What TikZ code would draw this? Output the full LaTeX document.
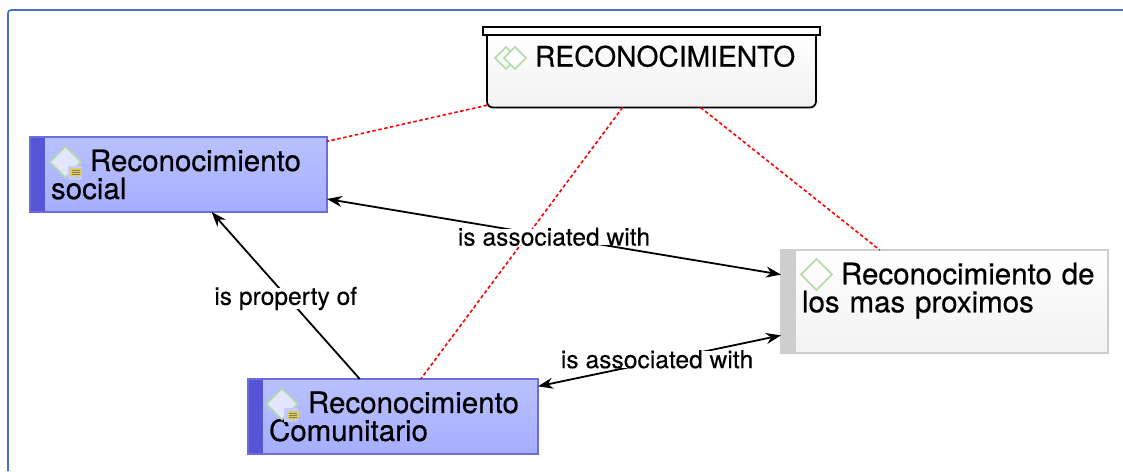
\documentclass[tikz,border=0pt]{standalone}
\usepackage{fontspec}
\setmainfont[FakeBold=0.5]{TeX Gyre Heros}
\newfontfamily\labfont[FakeBold=0.15]{TeX Gyre Heros}
\usetikzlibrary{arrows.meta,shapes.geometric}
\definecolor{bandblue}{HTML}{5555D5}
\definecolor{boxtop}{HTML}{BAC1FF}
\definecolor{boxbot}{HTML}{A5AEFF}
\definecolor{greyline}{HTML}{CECECE}
\definecolor{greybot}{HTML}{F2F2F2}
\definecolor{gemgreen}{HTML}{B2DBA5}
\definecolor{framec}{HTML}{4472C4}
\definecolor{notey}{HTML}{DCCB6C}
\definecolor{notel}{HTML}{8A7F45}
\tikzset{
  x=1pt,y=-1pt,
  concept/.style={rectangle,outer sep=0pt,inner xsep=0pt,inner ysep=0pt,align=left,
    font=\fontsize{29.5}{28}\selectfont},
  blue box/.style={concept,draw=bandblue!85!white,line width=1.5pt,top color=boxtop,bottom color=boxbot,
    path picture={\fill[bandblue] (path picture bounding box.north west) rectangle ([xshift=15pt]path picture bounding box.south west);}},
  grey box/.style={concept,draw=greyline,line width=1.5pt,top color=white,bottom color=greybot,
    path picture={\fill[greyline] (path picture bounding box.north west) rectangle ([xshift=15pt]path picture bounding box.south west);}},
  root box/.style={concept,draw=black,line width=1.7pt,rounded corners=6pt,top color=white,bottom color=greybot},
  lid/.style={rectangle,draw=black,line width=1.7pt,fill=white,outer sep=0pt,inner sep=0pt,minimum width=337pt,minimum height=8pt},
  gem/.style={diamond,aspect=1,draw=gemgreen,line width=1.7pt,inner sep=0pt,minimum width=31pt,minimum height=31pt,outer sep=0pt},
  gem small/.style={gem,minimum width=22pt,minimum height=22pt,line width=1.5pt},
  tie/.style={red,line width=1.6pt,dash pattern=on 3.5pt off 2.5pt},
  link/.style={black,line width=1.8pt},
  tip/.style={{Stealth[length=15pt,width=11pt]}-{Stealth[length=15pt,width=11pt]}},
  endtip/.style={-{Stealth[length=15pt,width=11pt]}},
  lab/.style={fill=white,inner xsep=0pt,inner ysep=-1pt,font=\labfont\fontsize{24.6}{26}\selectfont},
  notemark/.pic={
    \fill[notey] (-6,-4.5) -- (6,-4.5) -- (6,3.5) -- (2,3.5) -- (0,6) -- (-1,3.5) -- (-6,3.5) -- cycle;
    \draw[notel,line width=.7pt] (-4,-2.5) -- (4,-2.5) (-4,-.5) -- (4,-.5) (-4,1.5) -- (4,1.5);
  },
}
\begin{document}
\begin{tikzpicture}
\useasboundingbox (0,0) rectangle (1123,471);
\fill[white] (0,0) rectangle (1123,471);
\draw[framec,line width=1.7pt,rounded corners=3pt] (8,471) -- (8,10) -- (1123,10);
% concepts
\node[root box,minimum width=329pt,minimum height=78pt,text width=313pt] (reco) at (651.5,68.5)
  {\mbox{\hspace*{40pt}\fontsize{28.2}{28}\selectfont RECONOCIMIENTO}\\[-3pt]~};
\node[lid] (recolid) at (651.5,31) {};
\node[blue box,minimum width=297pt,minimum height=75pt,text width=255pt] (social) at (178.5,174.5)
  {\mbox{\hspace*{39pt}Reconocimiento}\\social};
\node[blue box,minimum width=290pt,minimum height=75pt,text width=248pt] (comun) at (393,416.5)
  {\mbox{\hspace*{39pt}Reconocimiento}\\Comunitario};
\node[grey box,minimum width=327pt,minimum height=103pt,text width=285pt] (prox) at (944.5,301.5)
  {\mbox{\hspace*{39pt}Reconocimiento de}\\los mas proximos\\[0pt]~};
% icons
\node[gem small] (ga) at (506,58) {};
\node[gem small,fill=white] (gb) at (515,58) {};
\node[gem,fill=boxtop!40!white] (gs) at (65.5,162) {};
\fill[boxtop!85!white] (68,166) rectangle (82,180);
\pic at (76,172.5) {notemark};
\node[gem,fill=boxtop!40!white] (gc) at (282,404) {};
\fill[boxtop!85!white] (284,408) rectangle (298,422);
\pic at (293,415.5) {notemark};
\node[gem] (gp) at (816.5,274.5) {};
% connectors
\draw[tie] (reco) -- (social);
\draw[tie] (reco) -- (prox);
\draw[tie] (reco) -- (comun);
\draw[link,tip] (social) -- node[lab,pos=.5] (l1) {is associated with} (prox);
\draw[link,endtip] (comun) -- node[lab,pos=.5,yshift=-3pt] (l2) {is property of} (social);
\draw[link,tip] (comun) -- node[lab,pos=.49,yshift=2pt] (l3) {is associated with} (prox);
\end{tikzpicture}
\end{document}
